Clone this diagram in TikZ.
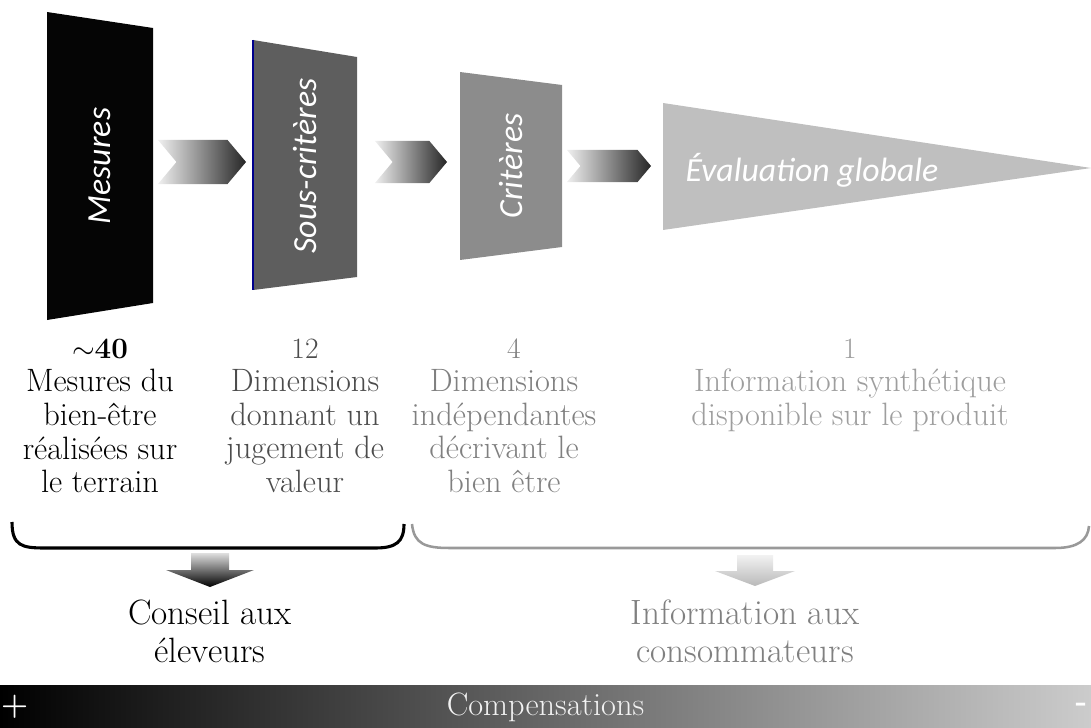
\documentclass[tikz,border=0pt]{standalone}
\usepackage{fontspec}
\newfontfamily\boxfont{Carlito}
\usetikzlibrary{calc}
\usetikzlibrary{positioning}
\usetikzlibrary{shapes.symbols}
\definecolor{tierA}{gray}{0.02}
\definecolor{tierB}{gray}{0.37}
\definecolor{tierC}{gray}{0.55}
\definecolor{tierD}{gray}{0.75}
\tikzstyle{tierlbl} = [text=white, inner sep=0, font=\boxfont\itshape\fontsize{24}{24}\selectfont]
\tikzstyle{chev} = [signal, signal from=west, signal to=east, signal pointer angle=100, shade, left color=gray!12, right color=black!85, inner sep=0]
\tikzstyle{numlbl} = [inner sep=0, font=\fontsize{21}{21}\selectfont]
\tikzstyle{desclbl} = [align=center, anchor=north, inner sep=0, font=\fontsize{23}{24}\selectfont]
\tikzstyle{outlbl} = [align=center, inner sep=0, font=\fontsize{25}{27}\selectfont]

\begin{document}
\begin{tikzpicture}[x=0.025cm, y=-0.025cm]
    \useasboundingbox (0,0) rectangle (1091,728);

    \fill[tierA] (47,12) -- (153,28) -- (153,303) -- (47,320) -- cycle;
    \fill[tierB] (253,40) -- (357,57) -- (357,277) -- (253,290) -- cycle;
    \draw[blue!55!black, line width=0.8pt] (253,40) -- (253,290);
    \fill[tierC] (460,72) -- (562,85) -- (562,247) -- (460,260) -- cycle;
    \fill[tierD] (663,103) -- (1091,168) -- (663,230) -- cycle;

    \node[tierlbl, rotate=90] (mes_lbl) at (100,166) {Mesures};
    \node[tierlbl, rotate=90] (sous_lbl) at (305,166) {Sous-critères};
    \node[tierlbl, rotate=90] (crit_lbl) at (511,166) {Critères};
    \node[tierlbl] (eval_lbl) at (812,170) {Évaluation globale};

    \node[chev, minimum width=2.2cm, minimum height=1.1cm] (arr_one) at (202,162) {};
    \node[chev, minimum width=1.8cm, minimum height=1.05cm] (arr_two) at (411,162) {};
    \node[chev, minimum width=2.1cm, minimum height=0.8cm] (arr_three) at (609,166) {};

    \node[numlbl] (n_mes) at (100,349) {$\sim$\textbf{40}};
    \node[numlbl, text=black!70] (n_sous) at (305,349) {12};
    \node[numlbl, text=black!50] (n_crit) at (514,349) {4};
    \node[numlbl, text=black!38] (n_eval) at (850,349) {1};

    \node[desclbl] (d_mes) at ($(n_mes)+(0,20)$)
{Mesures du\\bien-être\\réalisées sur\\le terrain};
    \node[desclbl, text=black!70] (d_sous) at ($(n_sous)+(0,20)$)
{Dimensions\\donnant un\\jugement de\\valeur};
    \node[desclbl, text=black!50] (d_crit) at ($(n_crit)+(-10,20)$)
{Dimensions\\indépendantes\\décrivant le\\bien être};
    \node[desclbl, text=black!38] (d_eval) at ($(n_eval)+(0,20)$)
{Information synthétique\\disponible sur le produit};

    \draw[black, line width=2.2pt] (12,522) .. controls (12,546) and (22,548) .. (45,548)
-- (375,548) .. controls (396,548) and (404,542) .. (404,524);
    \draw[black!40, line width=1.8pt] (412,524) .. controls (414,544) and (425,548) .. (450,548)
-- (1055,548) .. controls (1078,548) and (1088,540) .. (1089,526);

    \coordinate (adv_arr) at (210,553);
    \coordinate (inf_arr) at (755,555);
    \shade[top color=gray!25, bottom color=black] ($(adv_arr)+(-19,0)$) -- ++(38,0) -- ++(0,17)
-- ++(25,0) -- ($(adv_arr)+(0,34)$) -- ($(adv_arr)+(-44,17)$) -- ++(25,0) -- cycle;
    \shade[top color=gray!10, bottom color=gray!55] ($(inf_arr)+(-18,0)$) -- ++(36,0) -- ++(0,16)
-- ++(22,0) -- ($(inf_arr)+(0,31)$) -- ($(inf_arr)+(-40,16)$) -- ++(22,0) -- cycle;

    \node[outlbl] (cons_txt) at (210,631) {Conseil aux\\éleveurs};
    \node[outlbl, text=black!50] (info_txt) at (745,631) {Information aux\\consommateurs};

    \node[shade, left color=black, right color=gray!40, minimum width=27.275cm,
minimum height=1.05cm, inner sep=0, text=gray!10,
font=\fontsize{23}{23}\selectfont] (comp_bar) at (545.5,707) {Compensations};
    \node[text=white, inner sep=0, font=\bfseries\fontsize{22}{22}\selectfont] (plus_lbl)
at ($(comp_bar.west)+(15,0)$) {+};
    \node[text=white, inner sep=0, font=\bfseries\fontsize{22}{22}\selectfont] (minus_lbl)
at ($(comp_bar.east)+(-10,0)$) {-};
\end{tikzpicture}
\end{document}
